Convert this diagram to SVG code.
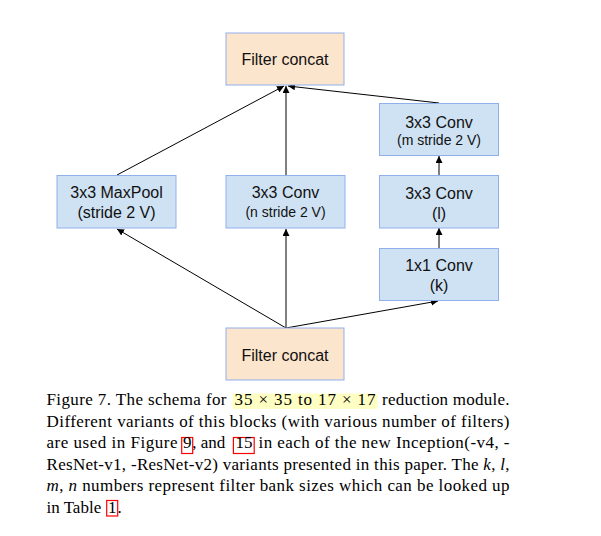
<svg xmlns="http://www.w3.org/2000/svg" width="601" height="536" viewBox="0 0 601 536">
<defs>
<marker id="ah" viewBox="0 0 10 10" refX="10" refY="5" markerWidth="7" markerHeight="7" markerUnits="userSpaceOnUse" orient="auto">
<path d="M0,0 L10,5 L0,10 z" fill="#000"/>
</marker>
<style>
.concat{fill:#fce5cd;stroke:#8fb0ec;stroke-width:1}
.conv{fill:#cfe2f3;stroke:#8fb0ec;stroke-width:1}
.t{font-family:"Liberation Sans",Arial,sans-serif;font-size:16px;fill:#111;text-anchor:middle}
.s{font-size:14px}
.c{stroke:#000;stroke-width:1;fill:none}
.cap{font-family:"Liberation Serif","Times New Roman",serif;font-size:17px;fill:#000}
.red{fill:none;stroke:#ff0000;stroke-width:1.2}
</style>
</defs>
<rect width="601" height="536" fill="#fff"/>
<g id="connectors">
<line class="c" x1="286" y1="328" x2="117" y2="229" marker-end="url(#ah)"/>
<line class="c" x1="286" y1="328" x2="286" y2="229" marker-end="url(#ah)"/>
<line class="c" x1="286" y1="328" x2="438" y2="301" marker-end="url(#ah)"/>
<line class="c" x1="439" y1="248" x2="439" y2="228" marker-end="url(#ah)"/>
<line class="c" x1="439" y1="175" x2="439" y2="156" marker-end="url(#ah)"/>
<line class="c" x1="117" y1="175" x2="284" y2="86" marker-end="url(#ah)"/>
<line class="c" x1="286" y1="175" x2="286" y2="86" marker-end="url(#ah)"/>
<line class="c" x1="439" y1="103" x2="288" y2="86" marker-end="url(#ah)"/>
</g>
<g id="concat_top">
<rect class="concat" x="226" y="33" width="118" height="52"/>
<text class="t" x="285" y="65">Filter concat</text>
</g>
<g id="maxpool">
<rect class="conv" x="57" y="175.5" width="119" height="52.5"/>
<text class="t" x="116.5" y="197.5">3x3 MaxPool</text>
<text class="t" x="116.5" y="218">(stride 2 V)</text>
</g>
<g id="conv_n">
<rect class="conv" x="226" y="175.5" width="119" height="52.5"/>
<text class="t" x="285.5" y="197.5">3x3 Conv</text>
<text class="t s" x="285.5" y="217">(n stride 2 V)</text>
</g>
<g id="conv_m">
<rect class="conv" x="379.5" y="103.5" width="119" height="52"/>
<text class="t" x="439" y="127.5">3x3 Conv</text>
<text class="t s" x="439" y="145">(m stride 2 V)</text>
</g>
<g id="conv_l">
<rect class="conv" x="379.5" y="175.5" width="119" height="52.5"/>
<text class="t" x="439" y="198.5">3x3 Conv</text>
<text class="t" x="439" y="218.5">(l)</text>
</g>
<g id="conv_k">
<rect class="conv" x="379.5" y="248.5" width="119" height="52"/>
<text class="t" x="439" y="270.5">1x1 Conv</text>
<text class="t" x="439" y="290.5">(k)</text>
</g>
<g id="concat_bottom">
<rect class="concat" x="226" y="328" width="118" height="52"/>
<text class="t" x="285" y="361">Filter concat</text>
</g>
<g id="caption">
<rect x="232.5" y="393.5" width="145" height="15.5" fill="#ffffc4"/>
<rect class="red" x="181.7" y="437.5" width="11" height="16"/>
<rect class="red" x="233.4" y="437.5" width="20.8" height="16"/>
<rect class="red" x="106.7" y="500.5" width="11" height="15.5"/>
<text class="cap" x="46.5" y="405.3" textLength="180" lengthAdjust="spacing">Figure 7. The schema for</text>
<text class="cap" x="234.5" y="405.3" textLength="141" lengthAdjust="spacing">35 × 35 to 17 × 17</text>
<text class="cap" x="382" y="405.3" textLength="127.5" lengthAdjust="spacing">reduction module.</text>
<text class="cap" x="46.5" y="426.8" textLength="463" lengthAdjust="spacing">Different variants of this blocks (with various number of filters)</text>
<text class="cap" x="46.5" y="448.3" textLength="131" lengthAdjust="spacing">are used in Figure</text>
<text class="cap" x="183" y="448.3">9</text>
<text class="cap" x="192.3" y="448.3">, and</text>
<text class="cap" x="235.5" y="448.3">15</text>
<text class="cap" x="258.5" y="448.3" textLength="251" lengthAdjust="spacing">in each of the new Inception(-v4, -</text>
<text class="cap" x="46.5" y="469.9" textLength="463" lengthAdjust="spacing">ResNet-v1, -ResNet-v2) variants presented in this paper. The <tspan font-style="italic">k</tspan>, <tspan font-style="italic">l</tspan>,</text>
<text class="cap" x="46.5" y="491.3" textLength="463" lengthAdjust="spacing"><tspan font-style="italic">m</tspan>, <tspan font-style="italic">n</tspan> numbers represent filter bank sizes which can be looked up</text>
<text class="cap" x="46.5" y="512.8">in Table</text>
<text class="cap" x="108" y="512.8">1</text>
<text class="cap" x="117.5" y="512.8">.</text>
</g>
</svg>
